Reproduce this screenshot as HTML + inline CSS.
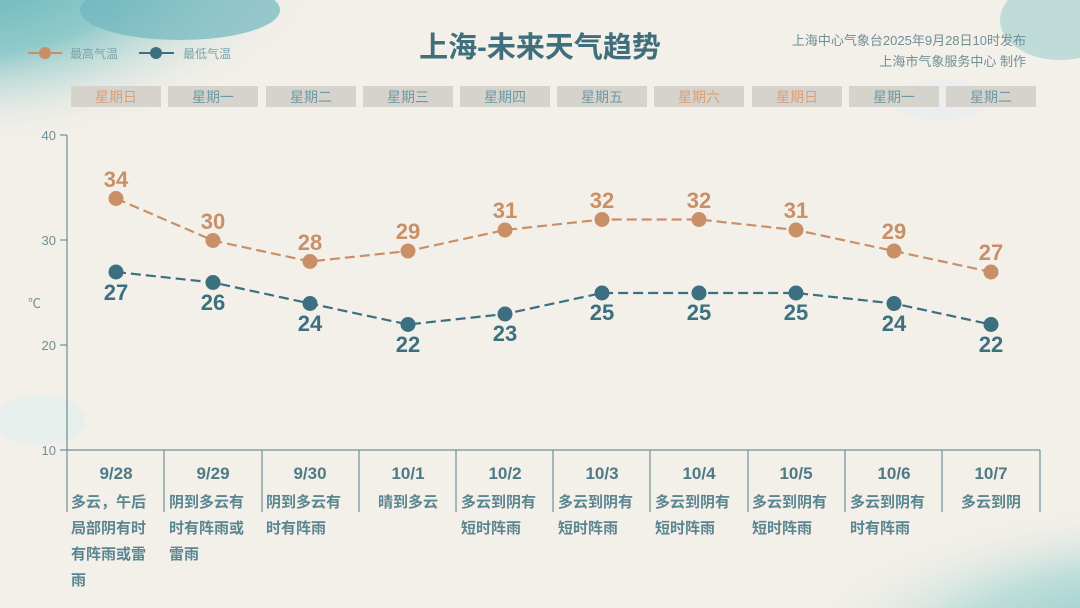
<!DOCTYPE html>
<html><head><meta charset="utf-8"><style>
html,body{margin:0;padding:0;background:#f3efe9;width:1080px;height:608px;overflow:hidden;}
svg{display:block;font-family:"Liberation Sans","Noto Sans CJK SC",sans-serif;}
</style></head><body>
<svg width="1080" height="608" viewBox="0 0 1080 608" xmlns="http://www.w3.org/2000/svg">
<defs>
<radialGradient id="g1" cx="0.15" cy="0.15" r="0.85"><stop offset="0" stop-color="#4fa9b5"/><stop offset="0.55" stop-color="#7fc3c4" stop-opacity="0.85"/><stop offset="1" stop-color="#f3efe9" stop-opacity="0"/></radialGradient>
<radialGradient id="g2" cx="0.9" cy="0.9" r="0.9"><stop offset="0" stop-color="#6fbcc0"/><stop offset="0.6" stop-color="#a7d6d2" stop-opacity="0.7"/><stop offset="1" stop-color="#f3efe9" stop-opacity="0"/></radialGradient>
</defs>
<rect width="1080" height="608" fill="#f3efe9"/>
<ellipse cx="100" cy="30" rx="240" ry="120" fill="url(#g1)"/>
<ellipse cx="180" cy="10" rx="100" ry="30" fill="#6fb7bf" opacity="0.7"/>
<ellipse cx="1000" cy="590" rx="220" ry="90" fill="url(#g2)"/>
<ellipse cx="1060" cy="20" rx="60" ry="40" fill="#8ccac8" opacity="0.5"/>
<ellipse cx="40" cy="420" rx="45" ry="25" fill="#e6eeec" opacity="0.9"/>
<ellipse cx="940" cy="100" rx="50" ry="20" fill="#e9eeec" opacity="0.8"/>
<!-- legend -->
<line x1="28" y1="53" x2="62" y2="53" stroke="#c99068" stroke-width="2"/><circle cx="45" cy="53" r="6" fill="#c99068"/>
<text x="70" y="58" font-size="12" fill="#7aa3ac">最高气温</text>
<line x1="139" y1="53" x2="174" y2="53" stroke="#3c7080" stroke-width="2"/><circle cx="156" cy="53" r="6" fill="#3c7080"/>
<text x="183" y="58" font-size="12" fill="#7aa3ac">最低气温</text>
<text x="540" y="57" font-size="29" font-weight="bold" fill="#3f6f7c" text-anchor="middle">上海-未来天气趋势</text>
<text x="1026" y="45" font-size="13" fill="#6f8f96" text-anchor="end">上海中心气象台2025年9月28日10时发布</text>
<text x="1026" y="66" font-size="13" fill="#6f8f96" text-anchor="end">上海市气象服务中心 制作</text>
<!-- day headers -->
<g font-size="14" text-anchor="middle">
<rect x="71" y="86" width="90" height="21" fill="#d6d2cc"/><text x="116" y="102" fill="#d8a07a">星期日</text>
<rect x="168" y="86" width="90" height="21" fill="#d6d2cc"/><text x="213" y="102" fill="#6f9aa4">星期一</text>
<rect x="266" y="86" width="90" height="21" fill="#d6d2cc"/><text x="311" y="102" fill="#6f9aa4">星期二</text>
<rect x="363" y="86" width="90" height="21" fill="#d6d2cc"/><text x="408" y="102" fill="#6f9aa4">星期三</text>
<rect x="460" y="86" width="90" height="21" fill="#d6d2cc"/><text x="505" y="102" fill="#6f9aa4">星期四</text>
<rect x="557" y="86" width="90" height="21" fill="#d6d2cc"/><text x="602" y="102" fill="#6f9aa4">星期五</text>
<rect x="654" y="86" width="90" height="21" fill="#d6d2cc"/><text x="699" y="102" fill="#d8a07a">星期六</text>
<rect x="752" y="86" width="90" height="21" fill="#d6d2cc"/><text x="797" y="102" fill="#d8a07a">星期日</text>
<rect x="849" y="86" width="90" height="21" fill="#d6d2cc"/><text x="894" y="102" fill="#6f9aa4">星期一</text>
<rect x="946" y="86" width="90" height="21" fill="#d6d2cc"/><text x="991" y="102" fill="#6f9aa4">星期二</text>
</g>
<!-- axis -->
<g stroke="#6f8f96" stroke-width="1.2" fill="none">
<line x1="67" y1="135" x2="67" y2="512"/>
<line x1="60" y1="135" x2="67" y2="135"/><line x1="60" y1="240" x2="67" y2="240"/><line x1="60" y1="345" x2="67" y2="345"/>
<line x1="60" y1="450" x2="1040" y2="450"/>
<line x1="164" y1="450" x2="164" y2="512"/><line x1="262" y1="450" x2="262" y2="512"/><line x1="359" y1="450" x2="359" y2="512"/>
<line x1="456" y1="450" x2="456" y2="512"/><line x1="553" y1="450" x2="553" y2="512"/><line x1="650" y1="450" x2="650" y2="512"/>
<line x1="748" y1="450" x2="748" y2="512"/><line x1="845" y1="450" x2="845" y2="512"/><line x1="942" y1="450" x2="942" y2="512"/><line x1="1040" y1="450" x2="1040" y2="512"/>
</g>
<g font-size="13" fill="#6f8f96" text-anchor="end">
<text x="56" y="140">40</text><text x="56" y="245">30</text><text x="56" y="350">20</text><text x="56" y="455">10</text>
</g>
<text x="28" y="308" font-size="13" fill="#6f8f96">℃</text>
<!-- series -->
<polyline points="116,198.5 213,240.5 310,261.5 408,251 505,230 602,219.5 699,219.5 796,230 894,251 991,272" fill="none" stroke="#c99068" stroke-width="2.2" stroke-dasharray="10,5"/>
<polyline points="116,272 213,282.5 310,303.5 408,324.5 505,314 602,293 699,293 796,293 894,303.5 991,324.5" fill="none" stroke="#3c7080" stroke-width="2.2" stroke-dasharray="10,5"/>
<g fill="#c99068"><circle cx="116" cy="198.5" r="7.5"/><circle cx="213" cy="240.5" r="7.5"/><circle cx="310" cy="261.5" r="7.5"/><circle cx="408" cy="251" r="7.5"/><circle cx="505" cy="230" r="7.5"/><circle cx="602" cy="219.5" r="7.5"/><circle cx="699" cy="219.5" r="7.5"/><circle cx="796" cy="230" r="7.5"/><circle cx="894" cy="251" r="7.5"/><circle cx="991" cy="272" r="7.5"/></g>
<g fill="#3c7080"><circle cx="116" cy="272" r="7.5"/><circle cx="213" cy="282.5" r="7.5"/><circle cx="310" cy="303.5" r="7.5"/><circle cx="408" cy="324.5" r="7.5"/><circle cx="505" cy="314" r="7.5"/><circle cx="602" cy="293" r="7.5"/><circle cx="699" cy="293" r="7.5"/><circle cx="796" cy="293" r="7.5"/><circle cx="894" cy="303.5" r="7.5"/><circle cx="991" cy="324.5" r="7.5"/></g>
<g font-size="22" font-weight="bold" fill="#c99068" text-anchor="middle">
<text x="116" y="187">34</text><text x="213" y="229">30</text><text x="310" y="250">28</text><text x="408" y="239">29</text><text x="505" y="218">31</text><text x="602" y="208">32</text><text x="699" y="208">32</text><text x="796" y="218">31</text><text x="894" y="239">29</text><text x="991" y="260">27</text>
</g>
<g font-size="22" font-weight="bold" fill="#3c7080" text-anchor="middle">
<text x="116" y="300">27</text><text x="213" y="310">26</text><text x="310" y="331">24</text><text x="408" y="352">22</text><text x="505" y="341">23</text><text x="602" y="320">25</text><text x="699" y="320">25</text><text x="796" y="320">25</text><text x="894" y="331">24</text><text x="991" y="352">22</text>
</g>
<!-- dates -->
<g font-size="17" font-weight="bold" fill="#4f7a85" text-anchor="middle">
<text x="116" y="479">9/28</text><text x="213" y="479">9/29</text><text x="310" y="479">9/30</text><text x="408" y="479">10/1</text><text x="505" y="479">10/2</text><text x="602" y="479">10/3</text><text x="699" y="479">10/4</text><text x="796" y="479">10/5</text><text x="894" y="479">10/6</text><text x="991" y="479">10/7</text>
</g>
<g font-size="15" font-weight="bold" fill="#5b8590">
<text x="71" y="507">多云，午后</text><text x="71" y="533">局部阴有时</text><text x="71" y="559">有阵雨或雷</text><text x="71" y="585">雨</text>
<text x="169" y="507">阴到多云有</text><text x="169" y="533">时有阵雨或</text><text x="169" y="559">雷雨</text>
<text x="266" y="507">阴到多云有</text><text x="266" y="533">时有阵雨</text>
<text x="408" y="507" text-anchor="middle">晴到多云</text>
<text x="461" y="507">多云到阴有</text><text x="461" y="533">短时阵雨</text>
<text x="558" y="507">多云到阴有</text><text x="558" y="533">短时阵雨</text>
<text x="655" y="507">多云到阴有</text><text x="655" y="533">短时阵雨</text>
<text x="752" y="507">多云到阴有</text><text x="752" y="533">短时阵雨</text>
<text x="850" y="507">多云到阴有</text><text x="850" y="533">时有阵雨</text>
<text x="991" y="507" text-anchor="middle">多云到阴</text>
</g>
</svg>
</body></html>
